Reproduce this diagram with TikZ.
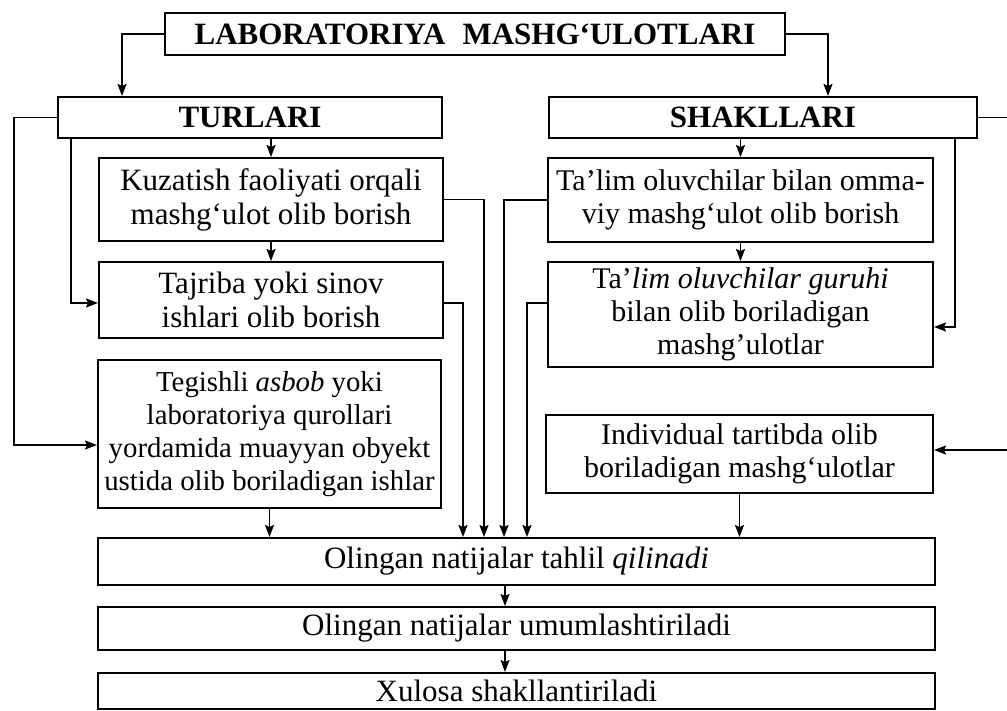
\documentclass[tikz,border=0pt]{standalone}
\usepackage{fontspec}
\setmainfont{Liberation Serif}
\usetikzlibrary{arrows.meta,calc}
\begin{document}
\begin{tikzpicture}[x=1pt,y=-1pt,
  box/.style={draw, line width=2pt, inner sep=0pt, align=center, font=\fontsize{30}{33}\selectfont},
  hbox/.style={box, font=\fontsize{31}{35}\selectfont\bfseries},
  wide/.style={box, font=\fontsize{31}{35}\selectfont},
  conn/.style={line width=1.7pt, -{Stealth[length=12pt,width=9pt,inset=2pt]}}]
\useasboundingbox (0,0) rectangle (1007,711);
\clip (0,0) rectangle (1007,711);
% boxes
\node[hbox, minimum width=620, minimum height=42] (top) at (475,34) {LABORATORIYA\hspace{0.3em} MASHG‘ULOTLARI};
\node[hbox, minimum width=384, minimum height=41] (tur) at (250,117.5) {TURLARI};
\node[hbox, minimum width=428, minimum height=41] (shak) at (763,117.5) {SHAKLLARI};
\node[box, minimum width=344, minimum height=83, font=\fontsize{31}{34}\selectfont] (kuz) at (271,199.5) {Kuzatish faoliyati orqali\\mashg‘ulot olib borish};
\node[box, minimum width=344, minimum height=76, font=\fontsize{31}{34}\selectfont] (taj) at (271,300) {Tajriba yoki sinov\\ishlari olib borish};
\node[box, minimum width=343, minimum height=148, font=\fontsize{28.8}{33}\selectfont] (teg) at (269.5,434) {Tegishli \textit{asbob} yoki\\laboratoriya qurollari\\yordamida muayyan obyekt\\ustida olib boriladigan ishlar};
\node[box, minimum width=385, minimum height=84] (omma) at (740.5,200) {Ta’lim oluvchilar bilan omma-\\viy mashg‘ulot olib borish};
\node[box, minimum width=385, minimum height=105] (guruh) at (740.5,314.5) {Ta’\textit{lim oluvchilar guruhi}\\bilan olib boriladigan\\mashg’ulotlar};
\node[box, minimum width=387, minimum height=78] (ind) at (739.5,454) {Individual tartibda olib\\boriladigan mashg‘ulotlar};
\node[wide, minimum width=837, minimum height=47] (r1) at (516.5,561.5) {Olingan natijalar tahlil \textit{qilinadi}};
\node[wide, minimum width=837, minimum height=43] (r2) at (516.5,628.5) {Olingan natijalar umumlashtiriladi};
\node[wide, minimum width=837, minimum height=36] (r3) at (516.5,691) {Xulosa shakllantiriladi};
% lane coordinates
\coordinate (la) at (122,0);
\coordinate (rb) at (828,0);
\coordinate (l1) at (14,0);
\coordinate (l2) at (71,0);
\coordinate (lk) at (484,0);
\coordinate (lt) at (463,0);
\coordinate (lo) at (504,0);
\coordinate (lg) at (527,0);
\coordinate (lr) at (955,0);
\coordinate (le) at (1015,0);
\coordinate (xm) at (505,0);
\coordinate (yteg) at (0,445);
\coordinate (ytaj) at (0,303);
\coordinate (ygr) at (0,327);
\coordinate (yind) at (0,450);
% connectors
\draw[conn] (top.west) -| (tur.north -| la);
\draw[conn] (top.east) -| (shak.north -| rb);
\draw[conn] (tur.west) -| (l1 |- yteg) -- (teg.west |- yteg);
\draw[conn] (tur.south -| l2) |- (taj.west |- ytaj);
\draw[conn] (tur.south -| kuz.north) -- (kuz.north);
\draw[conn] (kuz.south) -- (taj.north);
\draw[conn] (kuz.east) -| (r1.north -| lk);
\draw[conn] (taj.east |- ytaj) -| (r1.north -| lt);
\draw[conn] (omma.west) -| (r1.north -| lo);
\draw[conn] (guruh.west |- ytaj) -| (r1.north -| lg);
\draw[conn] (teg.south) -- (r1.north -| teg.south);
\draw[conn] (ind.south) -- (r1.north -| ind.south);
\draw[conn] (shak.south -| omma.north) -- (omma.north);
\draw[conn] (omma.south) -- (guruh.north);
\draw[conn] (shak.south -| lr) |- (guruh.east |- ygr);
\draw[conn] (shak.east) -| (le |- yind) -- (ind.east |- yind);
\draw[conn] (r1.south -| xm) -- (r2.north -| xm);
\draw[conn] (r2.south -| xm) -- (r3.north -| xm);
\end{tikzpicture}
\end{document}
